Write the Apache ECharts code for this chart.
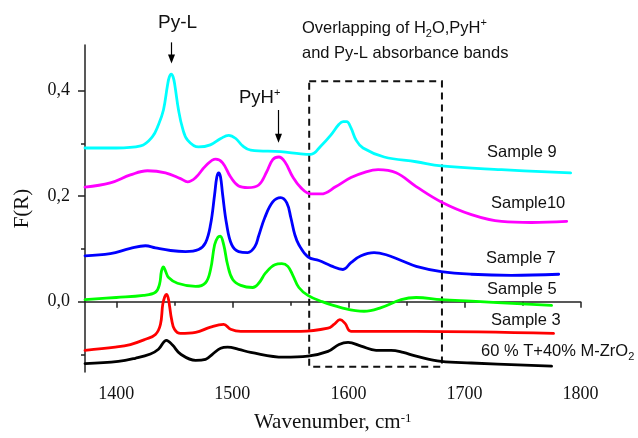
<!DOCTYPE html>
<html>
<head>
<meta charset="utf-8">
<style>html,body{margin:0;padding:0;background:#fff;}#c{width:638px;height:438px;}</style>
<script src="https://cdn.jsdelivr.net/npm/echarts@6/dist/echarts.min.js"></script>
</head>
<body>
<div id="c"></div>
<script>
// ---- data (wavenumber, F(R)) ----
const sample9 = [[1373,0.291],[1400,0.291],[1421,0.295],[1431,0.312],[1436.3,0.335],[1440.6,0.363],[1444.1,0.41],[1445.6,0.425],[1447.3,0.431],[1449,0.425],[1450.4,0.41],[1453.6,0.363],[1457,0.329],[1461.4,0.306],[1470.9,0.293],[1481,0.297],[1490,0.309],[1496.8,0.315],[1502.9,0.309],[1508.9,0.295],[1515.8,0.287],[1541.7,0.284],[1559,0.28],[1567.7,0.279],[1576.3,0.295],[1585,0.316],[1591.9,0.336],[1595.5,0.341],[1598.5,0.341],[1602.2,0.329],[1606.6,0.306],[1612.6,0.291],[1630.8,0.274],[1658.4,0.265],[1680,0.257],[1731.9,0.25],[1791.5,0.244]];
const sample10 = [[1373,0.217],[1394.8,0.225],[1412.1,0.24],[1426.8,0.248],[1442.4,0.244],[1455.3,0.233],[1461.4,0.227],[1468.3,0.235],[1476.9,0.257],[1485.6,0.27],[1491.6,0.263],[1498.5,0.236],[1505.4,0.219],[1513.2,0.216],[1522.7,0.221],[1529.6,0.246],[1534.8,0.269],[1540,0.274],[1545.2,0.265],[1552.1,0.236],[1559,0.216],[1567.7,0.204],[1576.3,0.204],[1589.3,0.218],[1602.2,0.235],[1615.2,0.246],[1625.6,0.25],[1641.1,0.244],[1658.4,0.218],[1680,0.189],[1706,0.165],[1731.9,0.152],[1757.8,0.15],[1788.1,0.152]];
const sample7 = [[1373,0.087],[1394.8,0.091],[1412.1,0.101],[1425.1,0.106],[1433.7,0.102],[1446.7,0.097],[1459.6,0.095],[1470.9,0.099],[1476.9,0.112],[1481.2,0.146],[1484.7,0.203],[1486.6,0.236],[1488.2,0.244],[1489.8,0.236],[1491.6,0.203],[1495.1,0.146],[1499.4,0.108],[1505.4,0.095],[1513.2,0.093],[1519.3,0.104],[1522.7,0.125],[1527.9,0.159],[1534.8,0.189],[1541.7,0.197],[1546.9,0.187],[1550.4,0.159],[1553.8,0.127],[1557.3,0.108],[1565.1,0.085],[1574.6,0.078],[1585,0.068],[1595.3,0.061],[1602.2,0.074],[1610.9,0.087],[1622.1,0.093],[1632.5,0.089],[1645.5,0.078],[1658.4,0.067],[1680,0.057],[1706,0.052],[1740.5,0.05],[1781.2,0.052]];
const sample5 = [[1373,0.004],[1400,0.008],[1423.3,0.012],[1433.7,0.018],[1437.2,0.033],[1438.9,0.058],[1440.6,0.066],[1442.4,0.058],[1445,0.046],[1452.7,0.035],[1468.3,0.029],[1476.9,0.036],[1481.2,0.061],[1484.7,0.108],[1487.5,0.122],[1489.5,0.124],[1492.5,0.108],[1495.9,0.07],[1500.3,0.042],[1507.2,0.031],[1517.5,0.027],[1522.7,0.035],[1528.8,0.055],[1536.6,0.07],[1542.6,0.072],[1547.8,0.067],[1552.1,0.05],[1557.3,0.027],[1565.1,0.012],[1576.3,0.001],[1593.6,-0.011],[1613.5,-0.018],[1628.2,-0.011],[1645.5,0.004],[1658.4,0.008],[1680,0.004],[1706,0.001],[1775.1,-0.007]];
const sample3 = [[1373,-0.092],[1399.1,-0.086],[1412.1,-0.081],[1425.1,-0.071],[1433.7,-0.062],[1438,-0.043],[1440,-0.005],[1441.8,0.01],[1443.2,0.014],[1444.6,0.008],[1446,-0.01],[1447.5,-0.032],[1450.1,-0.052],[1455.3,-0.06],[1468.3,-0.058],[1481.2,-0.048],[1492.5,-0.043],[1498.5,-0.052],[1507.2,-0.056],[1559,-0.056],[1582.4,-0.05],[1587.6,-0.043],[1592.7,-0.034],[1597.1,-0.041],[1602.2,-0.056],[1658.4,-0.056],[1776.8,-0.06]];
const sampleRef = [[1373,-0.117],[1401.7,-0.113],[1416.4,-0.107],[1429.4,-0.099],[1436.3,-0.09],[1443.2,-0.073],[1448.4,-0.082],[1455.3,-0.099],[1468.3,-0.111],[1476.9,-0.109],[1483,-0.099],[1489.9,-0.088],[1495.9,-0.086],[1505.4,-0.09],[1515.8,-0.096],[1544.3,-0.105],[1565.1,-0.103],[1582.4,-0.094],[1591.9,-0.081],[1599.7,-0.077],[1610.9,-0.084],[1623.9,-0.092],[1636.8,-0.092],[1647.2,-0.096],[1658.4,-0.103],[1680,-0.113],[1706,-0.116],[1775.1,-0.122]];
const seriesNames = ['Sample 9','Sample10','Sample 7','Sample 5','Sample 3','60 % T+40% M-ZrO2'];
const xTicks = [1400,1500,1600,1700,1800];
const xMinorTicks = [1450,1550,1650,1750];
const yTicks = [0,0.2,0.4];
const yMinorTicks = [-0.1,0.1,0.3];
const overlapBox = [[1566.2,0.4175],[1680.6,-0.123]];
const arrowPyL = [1447.3,0.491,0.451];
const arrowPyH = [1539.2,0.363,0.301];

const XMIN=1373, XMAX=1800, YMIN=-0.133, YMAX=0.486;
const serif = 'Liberation Serif';
const sans = 'Liberation Sans';
const colors = ['#00ffff','#ff00ff','#0000ff','#00ff00','#ff0000','#000000'];
const datasets = [sample9,sample10,sample7,sample5,sample3,sampleRef];

const chart = echarts.init(document.getElementById('c'), null, {renderer:'canvas'});
const axisLineStyle = {color:'#222', width:1.5};
const series = datasets.map((d,i)=>({
  name: seriesNames[i], type:'line', data:d, smooth:0.4, showSymbol:false, symbol:'none',
  lineStyle:{color:colors[i], width:2.8, join:'round', cap:'round'}, itemStyle:{color:colors[i]}, z:3, silent:true,
  xAxisIndex:0, yAxisIndex:0
}));
series[5].markArea = {
  silent:true,
  itemStyle:{color:'rgba(0,0,0,0)', borderColor:'#111', borderWidth:2, borderType:[7,5]},
  data:[[{xAxis:overlapBox[0][0], yAxis:overlapBox[0][1]},{xAxis:overlapBox[1][0], yAxis:overlapBox[1][1]}]]
};

chart.setOption({
  animation:false,
  backgroundColor:'#fff',
  grid:{left:85, right:57.5, top:45, bottom:64.5, containLabel:false},
  xAxis:[{
    type:'value', min:XMIN, max:XMAX, position:'bottom',
    axisLine:{show:true, lineStyle:axisLineStyle},
    axisTick:{show:true, customValues:xTicks, length:6, lineStyle:axisLineStyle},
    axisLabel:{customValues:xTicks, color:'#111', fontFamily:serif, fontSize:18, margin:13, formatter:v=>String(v)},
    splitLine:{show:false},
    name:'Wavenumber, cm{sup|-1}', nameLocation:'middle', nameGap:40,
    nameTextStyle:{color:'#111', fontFamily:serif, fontSize:21, rich:{sup:{fontFamily:serif, fontSize:13, verticalAlign:'top', color:'#111'}}}
  },{
    type:'value', min:XMIN, max:XMAX, position:'bottom', offset:0,
    axisLine:{show:false},
    axisTick:{show:true, customValues:xMinorTicks, length:4, lineStyle:axisLineStyle},
    axisLabel:{show:false}, splitLine:{show:false}
  }],
  yAxis:[{
    type:'value', min:YMIN, max:YMAX, position:'left',
    axisLine:{show:true, lineStyle:axisLineStyle},
    axisTick:{show:true, customValues:yTicks, length:7, lineStyle:axisLineStyle},
    axisLabel:{customValues:yTicks, color:'#111', fontFamily:serif, fontSize:18, margin:15,
      formatter:v=>v.toFixed(1).replace('.',',')},
    splitLine:{show:false},
    name:'F(R)', nameLocation:'middle', nameGap:52, nameRotate:90,
    nameTextStyle:{color:'#111', fontFamily:serif, fontSize:21}
  },{
    type:'value', min:YMIN, max:YMAX, position:'left', offset:0,
    axisLine:{show:false},
    axisTick:{show:true, customValues:yMinorTicks, length:4, lineStyle:axisLineStyle},
    axisLabel:{show:false}, splitLine:{show:false}
  }],
  series: series
});

function px(x,y){ return chart.convertToPixel({xAxisIndex:0, yAxisIndex:0},[x,y]); }
function arrow(a){
  const p0 = px(a[0],a[1]), p1 = px(a[0],a[2]);
  const x = Math.round(p0[0])+0.5;
  return [
    {type:'line', shape:{x1:x,y1:p0[1],x2:x,y2:p1[1]-8}, style:{stroke:'#000', lineWidth:1.2}, z:10},
    {type:'polygon', shape:{points:[[x-3.5,p1[1]-9],[x+3.5,p1[1]-9],[x,p1[1]]]}, style:{fill:'#000'}, z:10}
  ];
}
const supSub = {
  sup:{fontFamily:sans, fontSize:11, verticalAlign:'top', lineHeight:22, fill:'#111'},
  sub:{fontFamily:sans, fontSize:11, verticalAlign:'bottom', lineHeight:22, fill:'#111'}
};
function label(x,y,text,size){
  return {type:'text', x:x, y:y, z:11, style:{text:text, fill:'#111', font:(size||16.5)+'px '+sans,
    fontFamily:sans, fontSize:size||16.5, verticalAlign:'middle', align:'left', rich:supSub}};
}
const graphics = [].concat(
  arrow(arrowPyL), arrow(arrowPyH),
  [
    label(158,23,'Py-L',19),
    label(239,98,'PyH{sup|+}',18.5),
    label(302,28,'Overlapping of H{sub|2}O,PyH{sup|+}',16.5),
    label(302,53,'and Py-L absorbance bands',16.5),
    label(487,152,seriesNames[0]),
    label(491,203,seriesNames[1]),
    label(486,258,seriesNames[2]),
    label(487,289,seriesNames[3]),
    label(491,320,seriesNames[4]),
    label(481,351,'60 % T+40% M-ZrO{sub|2}')
  ]
);
chart.setOption({graphic:{elements:graphics}});
</script>
</body>
</html>
